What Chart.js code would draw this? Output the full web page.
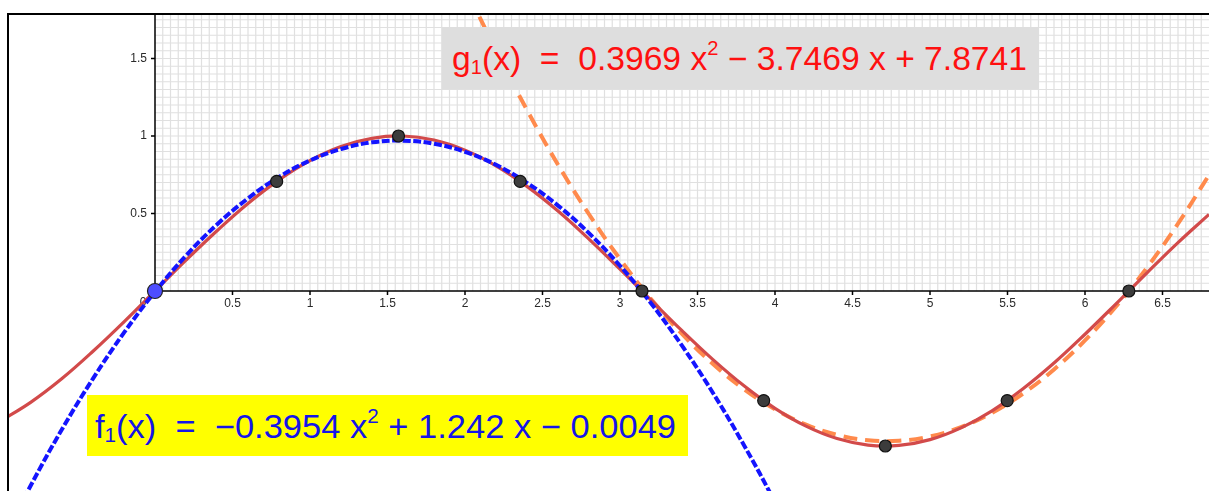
<!DOCTYPE html>
<html>
<head>
<meta charset="utf-8">
<script src="https://cdn.jsdelivr.net/npm/chart.js@4.4.1/dist/chart.umd.min.js"></script>
<style>
  html, body { margin: 0; padding: 0; background: #fff; overflow: hidden; }
  #wrap { position: relative; width: 1209px; height: 491px; overflow: hidden; }
  #plotBox { position: absolute; left: 0; top: 0; width: 1209px; height: 491px; }
  .eq { position: absolute; box-sizing: border-box; }
  .eq .t {
    position: absolute; white-space: nowrap; transform-origin: 0 50%;
    font-family: "Liberation Sans", Arial, sans-serif; font-size: 33px; line-height: 1;
  }
  .eq sub { font-size: 60%; vertical-align: -0.22em; line-height: 0; }
  .eq sup { font-size: 60%; vertical-align: 0.75em; line-height: 0; }
</style>
</head>
<body>
<div id="wrap">
  <div id="plotBox"><canvas id="plot"></canvas></div>
  <div class="eq" id="g1box" style="left:442px;top:27px;width:597px;height:62px;background:#dedede;color:#ff1010;">
    <span class="t" id="g1text" style="left:10px;top:31px;">g<sub>1</sub>(x)&nbsp;&nbsp;=&nbsp;&nbsp;0.3969 x<sup>2</sup> − 3.7469 x + 7.8741</span>
  </div>
  <div class="eq" id="f1box" style="left:87px;top:395px;width:601px;height:61px;background:#ffff00;color:#1515e8;">
    <span class="t" id="f1text" style="left:8px;top:31px;">f<sub>1</sub>(x)&nbsp;&nbsp;=&nbsp;&nbsp;−0.3954 x<sup>2</sup> + 1.242 x − 0.0049</span>
  </div>
</div>
<script>
// --- data ---
const sinX = [-1.0, -0.8, -0.6, -0.4, -0.2, 0, 0.2, 0.4, 0.6, 0.8, 1.0, 1.2, 1.4, 1.6, 1.8, 2.0, 2.2, 2.4, 2.6, 2.8,
              3.0, 3.2, 3.4, 3.6, 3.8, 4.0, 4.2, 4.4, 4.6, 4.8, 5.0, 5.2, 5.4, 5.6, 5.8, 6.0, 6.2, 6.4, 6.6, 6.8];
const sinY = [-0.841, -0.717, -0.565, -0.389, -0.199, 0, 0.199, 0.389, 0.565, 0.717, 0.841, 0.932, 0.985, 1.0, 0.974,
              0.909, 0.808, 0.675, 0.516, 0.335, 0.141, -0.058, -0.256, -0.443, -0.612, -0.757, -0.872, -0.952, -0.994,
              -0.996, -0.959, -0.883, -0.773, -0.631, -0.465, -0.279, -0.083, 0.117, 0.312, 0.494];

const f1X = [-1.0, -0.8, -0.6, -0.4, -0.2, 0, 0.2, 0.4, 0.6, 0.8, 1.0, 1.2, 1.4, 1.6, 1.8, 2.0, 2.2, 2.4, 2.6, 2.8,
             3.0, 3.2, 3.4, 3.6, 3.8, 4.0, 4.2];
const f1Y = [-1.642, -1.252, -0.892, -0.565, -0.269, -0.005, 0.228, 0.429, 0.598, 0.736, 0.842, 0.916, 0.959, 0.970,
             0.950, 0.898, 0.814, 0.698, 0.551, 0.373, 0.163, -0.079, -0.353, -0.658, -0.995, -1.363, -1.763];

const g1X = [1.8, 2.0, 2.2, 2.4, 2.6, 2.8, 3.0, 3.2, 3.4, 3.6, 3.8, 4.0, 4.2, 4.4, 4.6, 4.8, 5.0, 5.2, 5.4, 5.6,
             5.8, 6.0, 6.2, 6.4, 6.6, 6.8];
const g1Y = [2.416, 1.968, 1.552, 1.168, 0.815, 0.495, 0.206, -0.052, -0.277, -0.471, -0.633, -0.763, -0.862, -0.928,
             -0.963, -0.966, -0.938, -0.878, -0.786, -0.662, -0.506, -0.319, -0.100, 0.151, 0.434, 0.748];

const markX = [0.785, 1.571, 2.356, 3.142, 3.927, 4.712, 5.498, 6.283];
const markY = [0.707, 1.0, 0.707, 0, -0.707, -1.0, -0.707, 0];
const originPt = [0, 0];

const xTicks = [0.5, 1, 1.5, 2, 2.5, 3, 3.5, 4, 4.5, 5, 5.5, 6, 6.5];
const yTicks = [0.5, 1, 1.5];

const toPts = (xs, ys) => xs.map((x, i) => ({ x: x, y: ys[i] }));

// grid in the first quadrant only, axes from the origin, tick labels
const geoAxes = {
  id: 'geoAxes',
  beforeDatasetsDraw(chart) {
    const ctx = chart.ctx;
    const sx = chart.scales.x, sy = chart.scales.y;
    const a = chart.chartArea;
    const x0 = sx.getPixelForValue(0), y0 = sy.getPixelForValue(0);
    ctx.save();
    ctx.strokeStyle = '#e0e0e0';
    ctx.lineWidth = 1.2;
    ctx.beginPath();
    for (let i = 1; i * 0.05 <= sx.max; i++) {
      const px = sx.getPixelForValue(i * 0.05);
      ctx.moveTo(px, a.top); ctx.lineTo(px, y0);
    }
    for (let i = 1; i * 0.05 <= sy.max; i++) {
      const py = sy.getPixelForValue(i * 0.05);
      ctx.moveTo(x0, py); ctx.lineTo(a.right, py);
    }
    ctx.stroke();

    // axes
    ctx.strokeStyle = '#000';
    ctx.lineWidth = 1.5;
    ctx.beginPath();
    ctx.moveTo(x0, a.top); ctx.lineTo(x0, y0);
    ctx.moveTo(x0, y0); ctx.lineTo(a.right, y0);
    xTicks.forEach(v => {
      const px = sx.getPixelForValue(v);
      ctx.moveTo(px, y0); ctx.lineTo(px, y0 + 4);
    });
    yTicks.forEach(v => {
      const py = sy.getPixelForValue(v);
      ctx.moveTo(x0 - 4, py); ctx.lineTo(x0, py);
    });
    ctx.stroke();

    ctx.fillStyle = '#2a2a2a';
    ctx.font = '12px "Liberation Sans", Arial, sans-serif';
    ctx.textAlign = 'center';
    ctx.textBaseline = 'middle';
    xTicks.forEach(v => ctx.fillText(String(v), sx.getPixelForValue(v), y0 + 13));
    ctx.fillText('0', x0 - 12, y0 + 12);
    ctx.textAlign = 'right';
    yTicks.forEach(v => ctx.fillText(String(v), x0 - 8, sy.getPixelForValue(v)));
    ctx.restore();
  },
  afterDraw(chart) {
    // frame of the graphics view
    const ctx = chart.ctx;
    ctx.save();
    ctx.fillStyle = '#000';
    ctx.fillRect(7, 13, chart.width - 7, 2);
    ctx.fillRect(7, 13, 2, chart.height - 13);
    ctx.restore();
  }
};

// 155 px per unit, origin at (155, 291)
const PX = 155;
new Chart(document.getElementById('plot'), {
  type: 'scatter',
  data: {
    datasets: [
      {
        label: 'points',
        data: toPts(markX, markY),
        pointRadius: 6, pointHoverRadius: 6,
        backgroundColor: '#3c3c3c', borderColor: '#111', borderWidth: 1.2,
        showLine: false, order: 0
      },
      {
        label: 'origin',
        data: [{ x: originPt[0], y: originPt[1] }],
        pointRadius: 7.5, pointHoverRadius: 7.5,
        backgroundColor: '#4d4dff', borderColor: '#222', borderWidth: 1.2,
        showLine: false, order: 0
      },
      {
        label: 'f1',
        data: toPts(f1X, f1Y),
        showLine: true, pointRadius: 0, tension: 0.4,
        borderColor: '#1414ff', borderWidth: 4, borderDash: [8, 2.5],
        clip: 0, order: 1
      },
      {
        label: 'sin',
        data: toPts(sinX, sinY),
        showLine: true, pointRadius: 0, tension: 0.4,
        borderColor: '#d24a4a', borderWidth: 3.2,
        clip: 0, order: 2
      },
      {
        label: 'g1',
        data: toPts(g1X, g1Y),
        showLine: true, pointRadius: 0, tension: 0.4,
        borderColor: '#ff8a4c', borderWidth: 4, borderDash: [14, 8],
        clip: 0, order: 3
      }
    ]
  },
  options: {
    responsive: true,
    maintainAspectRatio: false,
    devicePixelRatio: 1,
    animation: false,
    layout: { autoPadding: false, padding: { left: 9, top: 15, right: 0, bottom: 0 } },
    scales: {
      x: { type: 'linear', display: false, min: -146 / PX, max: 1054 / PX },
      y: { type: 'linear', display: false, min: -200 / PX, max: 276 / PX }
    },
    plugins: { legend: { display: false }, tooltip: { enabled: false } },
    events: []
  },
  plugins: [geoAxes]
});

// stretch the equation texts to the widths seen in the picture
function fitText(id, target) {
  const el = document.getElementById(id);
  el.style.transform = 'none';
  const w = el.getBoundingClientRect().width;
  el.style.transform = `translateY(-50%) scaleX(${target / w})`;
}
document.fonts.ready.then(() => {
  fitText('g1text', 575);
  fitText('f1text', 581);
});
</script>
</body>
</html>
